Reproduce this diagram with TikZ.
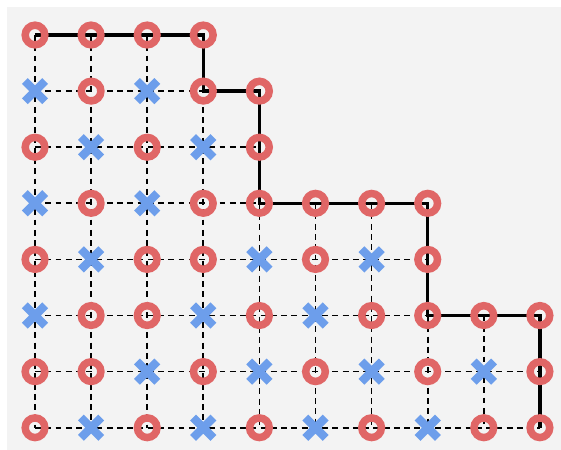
\documentclass[tikz,border=0pt]{standalone}
\usepackage{tikz}
\usetikzlibrary{positioning, shapes.misc}

\definecolor{ringred}{RGB}{224,102,102}
\definecolor{crossblue}{RGB}{109,158,235}
\definecolor{bggray}{RGB}{243,243,243}

\begin{document}
\begin{tikzpicture}[
    siteo/.style={circle, draw=ringred, line width=3.8pt, minimum size=0.35cm, inner sep=0pt},
    sitex/.style={cross out, draw=crossblue, line width=4.2pt, minimum size=0.215cm, inner sep=0pt},
    gridline/.style={dashed, dash pattern=on 3pt off 2.2pt, line width=0.85pt},
    boundary/.style={line width=1.8pt}
]

% Background
\useasboundingbox (-0.624,0.624) rectangle (9.376,-7.397);
\fill[bggray] (-0.499,0.499) rectangle (9.376,-7.397);

% Grid points
\foreach \r/\n in {0/3,1/4,2/4,3/7,4/7,5/9,6/9,7/9}
  \foreach \c in {0,...,\n}
    \coordinate (p-\r-\c) at (\c,-\r);

% Dashed rows and columns
\foreach \r/\n in {0/3,1/4,2/4,3/7,4/7,5/9,6/9,7/9}
  \draw[gridline] (p-\r-0) -- (p-\r-\n);
\foreach \c/\t in {0/0,1/0,2/0,3/0,4/1,5/3,6/3,7/3,8/5,9/5}
  \draw[gridline] (p-\t-\c) -- (p-7-\c);

% Staircase boundary
\draw[boundary] (p-0-0) -- (p-0-3) -- (p-1-3) -- (p-1-4) -- (p-3-4)
  -- (p-3-7) -- (p-5-7) -- (p-5-9) -- (p-7-9);

% Markers
\foreach \r/\row in {0/{o,o,o,o}, 1/{x,o,x,o,o}, 2/{o,x,o,x,o},
    3/{x,o,x,o,o,o,o,o}, 4/{o,x,o,o,x,o,x,o},
    5/{x,o,o,x,o,x,o,o,o,o}, 6/{o,o,x,o,x,o,x,o,x,o},
    7/{o,x,o,x,o,x,o,x,o,o}}
  \foreach \m [count=\c from 0] in \row
    \node[site\m] (m-\r-\c) at (p-\r-\c) {};

\end{tikzpicture}
\end{document}
